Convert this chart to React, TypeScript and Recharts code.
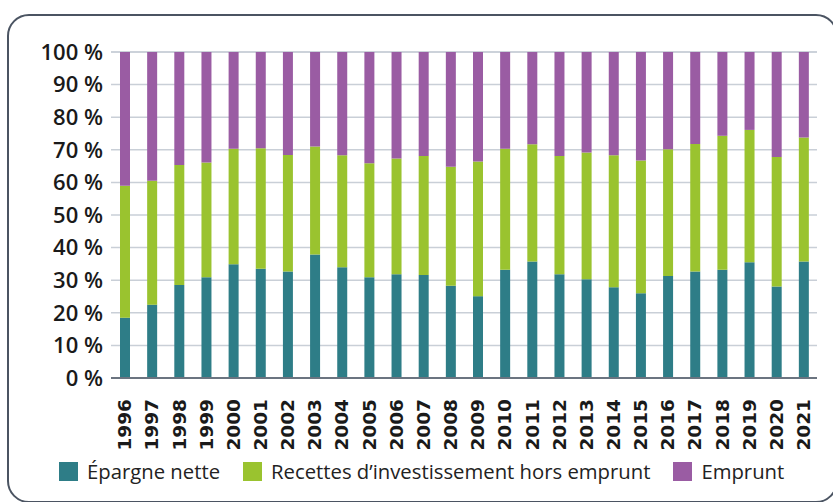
import { Bar, BarChart, CartesianGrid, XAxis, YAxis } from "recharts";

const YEARS = [
  "1996", "1997", "1998", "1999", "2000", "2001", "2002", "2003", "2004",
  "2005", "2006", "2007", "2008", "2009", "2010", "2011", "2012", "2013",
  "2014", "2015", "2016", "2017", "2018", "2019", "2020", "2021",
];

const EPARGNE_NETTE = [
  18.5, 22.5, 28.5, 30.9, 34.9, 33.5, 32.7, 37.9, 34.0, 30.9, 31.8, 31.6, 28.3,
  25.1, 33.2, 35.7, 31.8, 30.3, 27.8, 26.0, 31.3, 32.7, 33.2, 35.5, 28.1, 35.7,
];

const RECETTES_HORS_EMPRUNT = [
  40.5, 38.0, 36.8, 35.2, 35.4, 37.0, 35.7, 33.1, 34.3, 35.0, 35.5, 36.5, 36.5,
  41.3, 37.1, 36.0, 36.3, 38.9, 40.5, 40.7, 38.9, 39.1, 41.1, 40.6, 39.7, 38.1,
];

const EMPRUNT = [
  41.0, 39.5, 34.7, 33.9, 29.7, 29.5, 31.6, 29.0, 31.7, 34.1, 32.7, 31.9, 35.2,
  33.6, 29.7, 28.3, 31.9, 30.8, 31.7, 33.3, 29.8, 28.2, 25.7, 23.9, 32.2, 26.2,
];

const Y_TICKS = [0, 10, 20, 30, 40, 50, 60, 70, 80, 90, 100];

const SERIES = [
  { key: "epargne", label: "Épargne nette", color: "#2e7d87" },
  { key: "recettes", label: "Recettes d’investissement hors emprunt", color: "#9ac32f" },
  { key: "emprunt", label: "Emprunt", color: "#9a5ca3" },
];

const data = YEARS.map((year, i) => ({
  year,
  epargne: EPARGNE_NETTE[i],
  recettes: RECETTES_HORS_EMPRUNT[i],
  emprunt: EMPRUNT[i],
}));

function YearTick({ x, y, payload }: { x?: number; y?: number; payload?: { value: string } }) {
  return (
    <g transform={`translate(${x},${(y ?? 0) + 13})`}>
      <text
        transform="rotate(-90)"
        textAnchor="end"
        dy="0.36em"
        fontFamily="DejaVu Sans"
        fontWeight={700}
        fontSize={18.5}
        fill="#1a1a1a"
      >
        {payload?.value}
      </text>
    </g>
  );
}

function ChartLegend() {
  return (
    <div
      style={{
        position: "absolute",
        left: 59,
        top: 457,
        display: "flex",
        alignItems: "center",
        fontFamily: "Open Sans",
        fontSize: 20.3,
        color: "#222",
        whiteSpace: "nowrap",
      }}
    >
      {SERIES.map((s) => (
        <div key={s.key} style={{ display: "flex", alignItems: "center", marginRight: 23 }}>
          <span style={{ width: 19, height: 19, background: s.color, marginRight: 9, display: "inline-block" }} />
          <span>{s.label}</span>
        </div>
      ))}
    </div>
  );
}

export default function App() {
  return (
    <div style={{ position: "absolute", left: 0, top: 0, width: 833, height: 502, overflow: "hidden", background: "#fff" }}>
      <div
        style={{
          position: "absolute",
          left: 7,
          top: 14,
          width: 831,
          height: 489,
          border: "2px solid #4b5462",
          borderRadius: 22,
          boxSizing: "border-box",
        }}
      />
      <div style={{ position: "absolute", left: 0, top: 0 }}>
        <BarChart width={833} height={502} data={data} margin={{ top: 52, right: 16, left: 0, bottom: 44 }}>
          <CartesianGrid vertical={false} stroke="#c9cfd7" strokeWidth={1.5} />
          <XAxis
            dataKey="year"
            interval={0}
            height={80}
            tickLine={false}
            axisLine={{ stroke: "#6b7480", strokeWidth: 2 }}
            tick={<YearTick />}
          />
          <YAxis
            width={111}
            domain={[0, 100]}
            ticks={Y_TICKS}
            interval={0}
            tickLine={false}
            axisLine={false}
            tickFormatter={(v: number) => `${v} %`}
            tick={{ fontFamily: "Open Sans", fontWeight: 600, fontSize: 22, fill: "#1a1a1a" }}
          />
          {SERIES.map((s) => (
            <Bar key={s.key} dataKey={s.key} stackId="a" fill={s.color} barSize={10} isAnimationActive={false} />
          ))}
        </BarChart>
      </div>
      <ChartLegend />
    </div>
  );
}
